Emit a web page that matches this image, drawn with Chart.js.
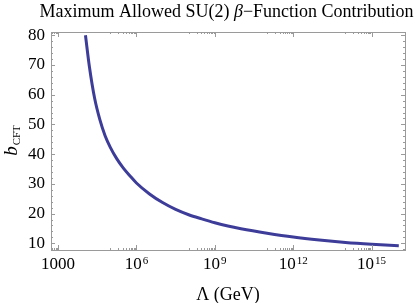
<!DOCTYPE html>
<html>
<head>
<meta charset="utf-8">
<script src="https://cdn.jsdelivr.net/npm/chart.js@4"></script>
<style>
  html, body { margin: 0; padding: 0; background: #fff; }
  #wrap { width: 417px; height: 303px; }
</style>
</head>
<body>
<div id="wrap"><canvas id="chart" width="417" height="303"></canvas></div>
<script>
// Lambda (GeV) and the maximum allowed b_CFT
const lambdaGeV = [1.12e4, 1.58e4, 2.51e4, 3.98e4, 6.31e4, 1e5, 1.78e5, 3.16e5, 5.62e5, 1e6, 3.16e6, 1e7, 3.16e7,
  1e8, 3.16e8, 1e9, 3.16e9, 1e10, 1e11, 1e12, 1e13, 1e14, 1e15, 1.1e16];
const bCFT = [80, 69.5, 58.8, 51.6, 46.2, 42.3, 38.4, 35.3, 32.7, 30.3, 26.6, 23.7, 21.4,
  19.6, 18.2, 16.9, 15.8, 14.9, 13.4, 12.1, 11.1, 10.3, 9.7, 9.2];

const xMajorTicks = [1e3, 1e6, 1e9, 1e12, 1e15];
const xTickLabels = [['1000', ''], ['10', '6'], ['10', '9'], ['10', '12'], ['10', '15']];
const yTicks = [10, 20, 30, 40, 50, 60, 70, 80];

const titleParts = [['Maximum Allowed SU(2) ', ''], ['β', 'italic '], ['−Function Contribution', '']];
const xTitle = 'Λ (GeV)';

const SERIF = '"Liberation Serif", "Times New Roman", serif';
const FRAME = '#9a9a9a';

// frame, inward ticks and the text that Chart.js can't style
const decorations = {
  id: 'decorations',
  afterDraw(chart) {
    const ctx = chart.ctx;
    const a = chart.chartArea;
    const xs = chart.scales.x, ys = chart.scales.y;
    ctx.save();
    ctx.strokeStyle = FRAME;
    ctx.lineWidth = 1;
    ctx.strokeRect(a.left + 0.5, a.top + 0.5, a.right - a.left, a.bottom - a.top);

    ctx.beginPath();
    // y ticks
    for (let v = 8; v <= 80; v += 2) {
      const y = Math.round(ys.getPixelForValue(v)) + 0.5;
      const len = v % 10 === 0 ? 4 : 2;
      ctx.moveTo(a.left, y); ctx.lineTo(a.left + len, y);
      ctx.moveTo(a.right, y); ctx.lineTo(a.right - len, y);
    }
    // x ticks
    xMajorTicks.forEach(t => {
      const x = Math.round(xs.getPixelForValue(t)) + 0.5;
      ctx.moveTo(x, a.bottom); ctx.lineTo(x, a.bottom - 5);
      ctx.moveTo(x, a.top); ctx.lineTo(x, a.top + 5);
      for (let m = 1; m < 10; m++) {
        const v = m * t / 10;
        if (v < xs.min) continue;
        const xm = Math.round(xs.getPixelForValue(v)) + 0.5;
        ctx.moveTo(xm, a.bottom); ctx.lineTo(xm, a.bottom - 2);
        ctx.moveTo(xm, a.top); ctx.lineTo(xm, a.top + 2);
      }
    });
    ctx.stroke();

    ctx.fillStyle = '#000';
    ctx.textBaseline = 'alphabetic';
    // x tick labels with superscripts
    xMajorTicks.forEach((t, i) => {
      const [base, exp] = xTickLabels[i];
      ctx.font = '17px ' + SERIF;
      const wb = ctx.measureText(base).width;
      ctx.font = '11px ' + SERIF;
      const we = exp ? ctx.measureText(exp).width + 1 : 0;
      const x0 = xs.getPixelForValue(t) - (wb + we) / 2;
      ctx.font = '17px ' + SERIF;
      ctx.textAlign = 'left';
      ctx.fillText(base, x0, 269);
      if (exp) {
        ctx.font = '11px ' + SERIF;
        ctx.fillText(exp, x0 + wb + 1, 263.5);
      }
    });

    // x axis title
    ctx.font = '18px ' + SERIF;
    ctx.textAlign = 'center';
    ctx.fillText(xTitle, (a.left + a.right) / 2, 300);

    // chart title
    let total = 0;
    titleParts.forEach(([s, st]) => { ctx.font = st + '18px ' + SERIF; total += ctx.measureText(s).width; });
    let tx = 226.5 - total / 2;
    ctx.textAlign = 'left';
    titleParts.forEach(([s, st]) => {
      ctx.font = st + '18px ' + SERIF;
      ctx.fillText(s, tx, 17);
      tx += ctx.measureText(s).width;
    });

    // y axis title b_CFT
    ctx.translate(17, 141);
    ctx.rotate(-Math.PI / 2);
    ctx.font = 'italic 19px ' + SERIF;
    const wbb = ctx.measureText('b').width;
    ctx.font = '11px ' + SERIF;
    const wc = ctx.measureText('CFT').width;
    const s0 = -(wbb + wc) / 2;
    ctx.font = 'italic 19px ' + SERIF;
    ctx.fillText('b', s0, 0);
    ctx.font = '11px ' + SERIF;
    ctx.fillText('CFT', s0 + wbb + 1, 3);
    ctx.restore();
  }
};

new Chart(document.getElementById('chart'), {
  type: 'line',
  data: {
    datasets: [{
      data: lambdaGeV.map((x, i) => ({ x: x, y: bCFT[i] })),
      borderColor: 'rgb(61, 61, 153)',
      borderWidth: 3,
      pointRadius: 0,
      fill: false,
      cubicInterpolationMode: 'monotone'
    }]
  },
  options: {
    responsive: false,
    animation: false,
    layout: { padding: { top: 32, right: 12, left: 0, bottom: 0 } },
    plugins: { legend: { display: false }, title: { display: false }, tooltip: { enabled: false } },
    scales: {
      x: {
        type: 'logarithmic',
        min: 537,
        max: 1.9e16,
        grid: { display: false, drawTicks: false },
        border: { display: false },
        ticks: { display: false },
        afterFit: s => { s.height = 53; }
      },
      y: {
        type: 'linear',
        min: 7.74,
        max: 81.1,
        grid: { display: false, drawTicks: false },
        border: { display: false },
        afterBuildTicks: s => { s.ticks = yTicks.map(v => ({ value: v })); },
        ticks: {
          padding: 6,
          color: '#000',
          font: { family: SERIF, size: 17 }
        },
        afterFit: s => { s.width = 51; }
      }
    }
  },
  plugins: [decorations]
});
</script>
</body>
</html>
